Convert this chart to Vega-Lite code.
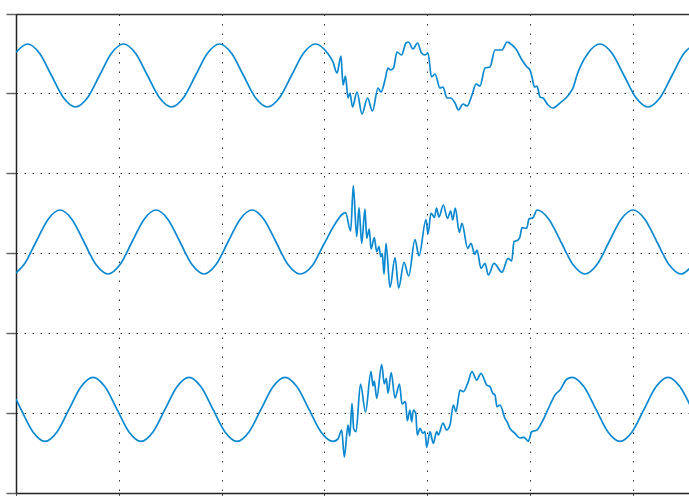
{
  "$schema": "https://vega.github.io/schema/vega-lite/v6.json",
  "width": 673,
  "height": 479,
  "autosize": {"type": "none"},
  "padding": {"left": 16, "top": 14, "right": 0, "bottom": 3},
  "background": "white",
  "config": {"view": {"stroke": null}},
  "data": {"values": [
    {"s":"A","x":16,"y":440.5},{"s":"A","x":27.5,"y":449},{"s":"A","x":39.5,"y":439.8},{"s":"A","x":51.5,"y":417.5},{"s":"A","x":63.5,"y":395.2},{"s":"A","x":75.5,"y":386},{"s":"A","x":87.5,"y":395.2},{"s":"A","x":99.5,"y":417.5},{"s":"A","x":111.5,"y":439.8},{"s":"A","x":123.5,"y":449},{"s":"A","x":135.5,"y":439.8},{"s":"A","x":147.5,"y":417.5},{"s":"A","x":159.5,"y":395.2},{"s":"A","x":171.5,"y":386},{"s":"A","x":183.5,"y":395.2},{"s":"A","x":195.5,"y":417.5},{"s":"A","x":207.5,"y":439.8},{"s":"A","x":219.5,"y":449},{"s":"A","x":231.5,"y":439.8},{"s":"A","x":243.5,"y":417.5},{"s":"A","x":255.5,"y":395.2},{"s":"A","x":267.5,"y":386},{"s":"A","x":279.5,"y":395.2},{"s":"A","x":291.5,"y":417.5},{"s":"A","x":303.5,"y":439.8},{"s":"A","x":315.5,"y":449},{"s":"A","x":327.5,"y":439.8},{"s":"A","x":333,"y":431},{"s":"A","x":337,"y":420},{"s":"A","x":341,"y":437},{"s":"A","x":343,"y":408},{"s":"A","x":345.5,"y":417},{"s":"A","x":348,"y":395},{"s":"A","x":350,"y":400},{"s":"A","x":352.5,"y":386},{"s":"A","x":357,"y":401},{"s":"A","x":362,"y":379},{"s":"A","x":367.5,"y":395},{"s":"A","x":372.5,"y":382},{"s":"A","x":378,"y":405},{"s":"A","x":381,"y":401},{"s":"A","x":385,"y":413},{"s":"A","x":388,"y":425},{"s":"A","x":390.5,"y":423},{"s":"A","x":393.5,"y":425},{"s":"A","x":397,"y":441},{"s":"A","x":401.5,"y":438},{"s":"A","x":406,"y":450},{"s":"A","x":408.5,"y":451},{"s":"A","x":413,"y":444},{"s":"A","x":417.5,"y":450},{"s":"A","x":421.5,"y":440},{"s":"A","x":425,"y":438},{"s":"A","x":428,"y":440},{"s":"A","x":431.5,"y":416},{"s":"A","x":435,"y":419},{"s":"A","x":440,"y":405},{"s":"A","x":443,"y":406},{"s":"A","x":447,"y":395},{"s":"A","x":450.5,"y":395},{"s":"A","x":455,"y":390},{"s":"A","x":458.5,"y":383},{"s":"A","x":463,"y":389},{"s":"A","x":467,"y":387},{"s":"A","x":472,"y":398},{"s":"A","x":476,"y":409},{"s":"A","x":480,"y":407},{"s":"A","x":485,"y":425},{"s":"A","x":490,"y":426},{"s":"A","x":495,"y":443},{"s":"A","x":502,"y":443},{"s":"A","x":507,"y":451},{"s":"A","x":512,"y":448},{"s":"A","x":516,"y":444},{"s":"A","x":522,"y":433},{"s":"A","x":527,"y":426},{"s":"A","x":530,"y":423},{"s":"A","x":532,"y":416},{"s":"A","x":534.5,"y":406},{"s":"A","x":537,"y":407},{"s":"A","x":540,"y":396},{"s":"A","x":543,"y":395},{"s":"A","x":548,"y":388},{"s":"A","x":553,"y":385},{"s":"A","x":560,"y":390},{"s":"A","x":566,"y":395},{"s":"A","x":570,"y":400},{"s":"A","x":573,"y":405},{"s":"A","x":577,"y":418},{"s":"A","x":588,"y":439.8},{"s":"A","x":600,"y":449},{"s":"A","x":612,"y":439.8},{"s":"A","x":624,"y":417.5},{"s":"A","x":636,"y":395.2},{"s":"A","x":648,"y":386},{"s":"A","x":660,"y":395.2},{"s":"A","x":672,"y":417.5},{"s":"A","x":684,"y":439.8},{"s":"A","x":696,"y":449},
    {"s":"B","x":16,"y":220},{"s":"B","x":24,"y":228.4},{"s":"B","x":36,"y":251},{"s":"B","x":48,"y":273.6},{"s":"B","x":60,"y":283},{"s":"B","x":72,"y":273.6},{"s":"B","x":84,"y":251},{"s":"B","x":96,"y":228.4},{"s":"B","x":108,"y":219},{"s":"B","x":120,"y":228.4},{"s":"B","x":132,"y":251},{"s":"B","x":144,"y":273.6},{"s":"B","x":156,"y":283},{"s":"B","x":168,"y":273.6},{"s":"B","x":180,"y":251},{"s":"B","x":192,"y":228.4},{"s":"B","x":204,"y":219},{"s":"B","x":216,"y":228.4},{"s":"B","x":228,"y":251},{"s":"B","x":240,"y":273.6},{"s":"B","x":252,"y":283},{"s":"B","x":264,"y":273.6},{"s":"B","x":276,"y":251},{"s":"B","x":288,"y":228.4},{"s":"B","x":300,"y":219},{"s":"B","x":312,"y":227},{"s":"B","x":324,"y":249},{"s":"B","x":335,"y":269},{"s":"B","x":342,"y":278.5},{"s":"B","x":345.5,"y":280.3},{"s":"B","x":350.7,"y":262},{"s":"B","x":353.3,"y":307.5},{"s":"B","x":356.7,"y":256.3},{"s":"B","x":359,"y":285.3},{"s":"B","x":361.7,"y":249.7},{"s":"B","x":365,"y":284},{"s":"B","x":366.7,"y":254.7},{"s":"B","x":369.3,"y":264},{"s":"B","x":371,"y":244},{"s":"B","x":374.3,"y":255.3},{"s":"B","x":376.7,"y":241.3},{"s":"B","x":379,"y":246.3},{"s":"B","x":380.7,"y":236.3},{"s":"B","x":382.3,"y":239.7},{"s":"B","x":384,"y":218.7},{"s":"B","x":386,"y":249.7},{"s":"B","x":390,"y":205.5},{"s":"B","x":395,"y":235.3},{"s":"B","x":398.7,"y":205},{"s":"B","x":404,"y":230.7},{"s":"B","x":408.7,"y":217},{"s":"B","x":415,"y":253.5},{"s":"B","x":419,"y":237},{"s":"B","x":426,"y":273.5},{"s":"B","x":428,"y":259},{"s":"B","x":431,"y":280},{"s":"B","x":434.5,"y":275.5},{"s":"B","x":436.5,"y":285},{"s":"B","x":439,"y":276},{"s":"B","x":443.3,"y":288},{"s":"B","x":447.5,"y":274.7},{"s":"B","x":450.7,"y":282},{"s":"B","x":452.7,"y":273},{"s":"B","x":455.3,"y":285},{"s":"B","x":459.3,"y":260.5},{"s":"B","x":462,"y":269.7},{"s":"B","x":467.7,"y":244.7},{"s":"B","x":471,"y":249.7},{"s":"B","x":474.7,"y":238.7},{"s":"B","x":477,"y":243},{"s":"B","x":481,"y":224.7},{"s":"B","x":485,"y":229.7},{"s":"B","x":488.3,"y":218},{"s":"B","x":494,"y":229.7},{"s":"B","x":502,"y":220.7},{"s":"B","x":508,"y":234.7},{"s":"B","x":511.7,"y":232},{"s":"B","x":514,"y":251.3},{"s":"B","x":518,"y":253},{"s":"B","x":520,"y":256.3},{"s":"B","x":522,"y":265.3},{"s":"B","x":526.7,"y":264.7},{"s":"B","x":529,"y":274},{"s":"B","x":533,"y":275.3},{"s":"B","x":537,"y":283},{"s":"B","x":549,"y":273.6},{"s":"B","x":561,"y":251},{"s":"B","x":573,"y":228.4},{"s":"B","x":585,"y":219},{"s":"B","x":597,"y":228.4},{"s":"B","x":609,"y":251},{"s":"B","x":621,"y":273.6},{"s":"B","x":633,"y":283},{"s":"B","x":645,"y":273.6},{"s":"B","x":657,"y":251},{"s":"B","x":669,"y":228.4},{"s":"B","x":681,"y":219},{"s":"B","x":693,"y":228.4},
    {"s":"C","x":16,"y":94},{"s":"C","x":21,"y":83.7},{"s":"C","x":33,"y":61.1},{"s":"C","x":45,"y":51.7},{"s":"C","x":57,"y":61.1},{"s":"C","x":69,"y":83.7},{"s":"C","x":81,"y":106.3},{"s":"C","x":93,"y":115.7},{"s":"C","x":105,"y":106.3},{"s":"C","x":117,"y":83.7},{"s":"C","x":129,"y":61.1},{"s":"C","x":141,"y":51.7},{"s":"C","x":153,"y":61.1},{"s":"C","x":165,"y":83.7},{"s":"C","x":177,"y":106.3},{"s":"C","x":189,"y":115.7},{"s":"C","x":201,"y":106.3},{"s":"C","x":213,"y":83.7},{"s":"C","x":225,"y":61.1},{"s":"C","x":237,"y":51.7},{"s":"C","x":249,"y":61.1},{"s":"C","x":261,"y":83.7},{"s":"C","x":273,"y":106.3},{"s":"C","x":285,"y":115.7},{"s":"C","x":297,"y":106.3},{"s":"C","x":309,"y":83.7},{"s":"C","x":321,"y":61.1},{"s":"C","x":333,"y":51.7},{"s":"C","x":338,"y":54},{"s":"C","x":341.7,"y":63},{"s":"C","x":344.3,"y":36},{"s":"C","x":348,"y":68},{"s":"C","x":349.7,"y":57},{"s":"C","x":352,"y":89.7},{"s":"C","x":353.7,"y":64},{"s":"C","x":356,"y":61.3},{"s":"C","x":360.5,"y":109},{"s":"C","x":365.5,"y":81},{"s":"C","x":371,"y":121.3},{"s":"C","x":373,"y":107},{"s":"C","x":374.3,"y":112},{"s":"C","x":376.7,"y":94.7},{"s":"C","x":381.7,"y":128.3},{"s":"C","x":384.3,"y":109},{"s":"C","x":386.3,"y":114.7},{"s":"C","x":388,"y":99.7},{"s":"C","x":391.2,"y":120.5},{"s":"C","x":395,"y":95},{"s":"C","x":399.5,"y":109},{"s":"C","x":402,"y":89},{"s":"C","x":405.5,"y":91.3},{"s":"C","x":407.3,"y":72.3},{"s":"C","x":410,"y":83},{"s":"C","x":411.7,"y":71.3},{"s":"C","x":413.3,"y":83},{"s":"C","x":415.7,"y":79.7},{"s":"C","x":417.3,"y":58},{"s":"C","x":420,"y":64.7},{"s":"C","x":422.7,"y":59.7},{"s":"C","x":425,"y":61.3},{"s":"C","x":426.7,"y":45.7},{"s":"C","x":430,"y":61.3},{"s":"C","x":433.3,"y":49.7},{"s":"C","x":436.7,"y":61.3},{"s":"C","x":438.3,"y":58},{"s":"C","x":443,"y":70},{"s":"C","x":446.5,"y":63},{"s":"C","x":450,"y":68},{"s":"C","x":453.3,"y":88},{"s":"C","x":456,"y":81.3},{"s":"C","x":460,"y":103},{"s":"C","x":463.3,"y":101.3},{"s":"C","x":467.7,"y":109.7},{"s":"C","x":472,"y":121.3},{"s":"C","x":476.7,"y":113},{"s":"C","x":481,"y":119.7},{"s":"C","x":486.7,"y":108},{"s":"C","x":490,"y":106.3},{"s":"C","x":492.7,"y":99.7},{"s":"C","x":495,"y":98},{"s":"C","x":497,"y":86.3},{"s":"C","x":500,"y":88},{"s":"C","x":505,"y":74.7},{"s":"C","x":507,"y":71.3},{"s":"C","x":510,"y":64.7},{"s":"C","x":515,"y":59.7},{"s":"C","x":520,"y":55},{"s":"C","x":524,"y":55.7},{"s":"C","x":528.3,"y":51.7},{"s":"C","x":531.7,"y":61.3},{"s":"C","x":537,"y":63},{"s":"C","x":543,"y":73},{"s":"C","x":550,"y":88},{"s":"C","x":555,"y":98},{"s":"C","x":560,"y":103},{"s":"C","x":566.7,"y":113.7},{"s":"C","x":572,"y":115.7},{"s":"C","x":584,"y":106.3},{"s":"C","x":596,"y":83.7},{"s":"C","x":608,"y":61.1},{"s":"C","x":620,"y":51.7},{"s":"C","x":632,"y":61.1},{"s":"C","x":644,"y":83.7},{"s":"C","x":656,"y":106.3},{"s":"C","x":668,"y":115.7},{"s":"C","x":680,"y":106.3},{"s":"C","x":692,"y":83.7}
  ]},
  "layer": [
    {
      "mark": {"type": "line", "interpolate": "monotone", "color": "#0a88d0", "strokeWidth": 1.7, "clip": true},
      "encoding": {
        "x": {"field": "x", "type": "quantitative",
          "scale": {"domain": [16, 689], "nice": false, "zero": false},
          "axis": {"orient": "bottom", "values": [16, 119, 221.7, 324.3, 427.3, 530, 632.7], "labels": false, "title": null,
            "grid": true, "gridDash": [1.5, 8], "gridColor": "#333", "gridWidth": 1,
            "ticks": true, "tickSize": 10, "tickColor": "#555", "tickWidth": 1,
            "domain": true, "domainColor": "#222", "domainWidth": 1.5}},
        "y": {"field": "y", "type": "quantitative",
          "scale": {"domain": [0, 479], "nice": false, "zero": false},
          "axis": {"orient": "left", "values": [0, 80, 160, 240, 320, 400, 479], "labels": false, "title": null,
            "grid": true, "gridDash": [1.5, 6.5], "gridColor": "#333", "gridWidth": 1,
            "ticks": true, "tickSize": 10, "tickColor": "#666", "tickWidth": 1.5,
            "domain": true, "domainColor": "#222", "domainWidth": 1.5}},
        "detail": {"field": "s"}
      }
    },
    {
      "mark": {"type": "line", "opacity": 0},
      "encoding": {
        "x": {"field": "x", "type": "quantitative",
          "axis": {"orient": "top", "labels": false, "ticks": false, "grid": false, "title": null,
            "domain": true, "domainColor": "#333", "domainWidth": 1.5}},
        "y": {"field": "y", "type": "quantitative"},
        "detail": {"field": "s"}
      }
    }
  ],
  "resolve": {"axis": {"x": "independent"}}
}
